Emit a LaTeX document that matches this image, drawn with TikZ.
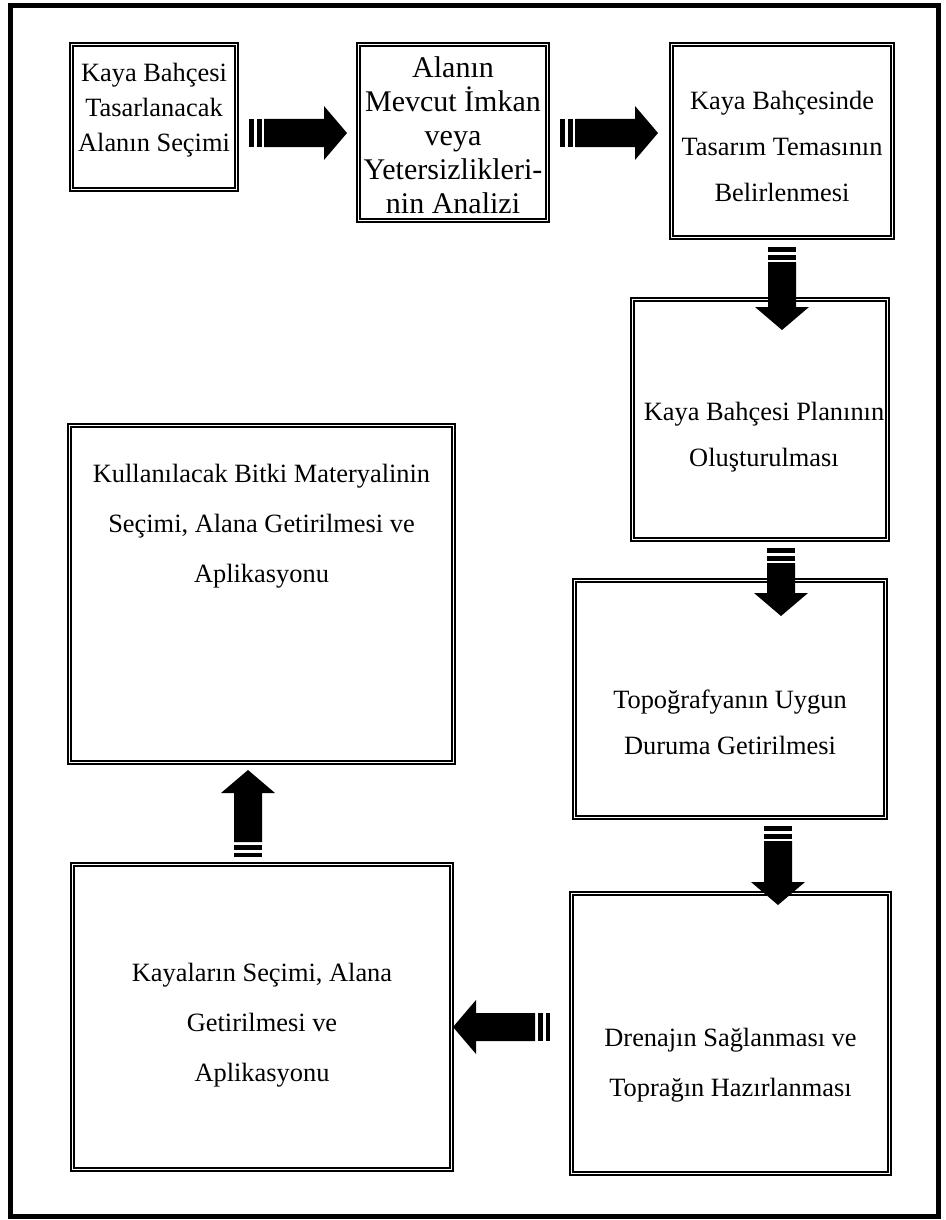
\documentclass[tikz,border=0pt]{standalone}
\usepackage{fontspec}
\setmainfont{Liberation Serif}
\tikzset{
  kutu/.style={draw, double, line width=0.8pt, double distance=0.9pt, inner sep=0pt},
  yazi/.style={align=center, inner sep=0pt},
  pics/okcizgili/.style={code={
    \fill (0,-14) rectangle (4.5,14);
    \fill (7.5,-14) rectangle (12.5,14);
    \fill (15,-14) -- ({#1-23},-14) -- ({#1-23},-27) -- (#1,0) -- ({#1-23},27) -- ({#1-23},14) -- (15,14) -- cycle;
  }}
}
\begin{document}
\begin{tikzpicture}[x=0.5pt,y=-0.5pt]
                \useasboundingbox (0,0) rectangle (946,1220);
                \draw[line width=2.5pt] (10,5.5) rectangle (938.5,1216.5);
                % kutular
                \node[kutu, minimum width=82.5pt,  minimum height=72.5pt]  (secim)   at (154,117)    {};
                \node[kutu, minimum width=94.5pt,  minimum height=88pt]    (analiz)  at (453,132.5)  {};
                \node[kutu, minimum width=110.5pt, minimum height=96.5pt]  (tema)    at (782,141)    {};
                \node[kutu, minimum width=127.5pt, minimum height=120pt]   (plan)    at (760,419.5)  {};
                \node[kutu, minimum width=155.5pt, minimum height=118.5pt] (topo)    at (730,699)    {};
                \node[kutu, minimum width=159pt,   minimum height=140pt]   (drenaj)  at (730.5,1033.5) {};
                \node[kutu, minimum width=189.5pt, minimum height=152.5pt] (kayalar) at (262,1017)   {};
                \node[kutu, minimum width=192pt,   minimum height=168.5pt] (bitki)   at (261.5,594)  {};
                % yazilar
                \node[yazi, font=\fontsize{13.2}{17.5}\selectfont] (secimyazi)   at (secim.center)   [yshift=3.5pt] {Kaya Bahçesi\\Tasarlanacak\\Alanın Seçimi};
                \node[yazi, font=\fontsize{15}{17}\selectfont]     (analizyazi)  at (analiz.center)  [yshift=-1.6pt] {Alanın\\Mevcut İmkan\\veya\\Yetersizlikleri-\\nin Analizi};
                \node[yazi, font=\fontsize{13.2}{23}\selectfont]   (temayazi)    at (tema.center)    [yshift=-2.5pt] {Kaya Bahçesinde\\Tasarım Temasının\\Belirlenmesi};
                \node[yazi, font=\fontsize{13.2}{23}\selectfont]   (planyazi)    at (plan.center)    [xshift=2pt, yshift=-9pt] {Kaya Bahçesi Planının\\Oluşturulması};
                \node[yazi, font=\fontsize{13.2}{23}\selectfont]   (topoyazi)    at (topo.center)    [yshift=-11.5pt] {Topoğrafyanın Uygun\\Duruma Getirilmesi};
                \node[yazi, font=\fontsize{13.2}{25}\selectfont]   (drenajyazi)  at (drenaj.center)  [yshift=-16pt] {Drenajın Sağlanması ve\\Toprağın Hazırlanması};
                \node[yazi, font=\fontsize{13.2}{25}\selectfont]   (kayalaryazi) at (kayalar.center) [yshift=-4pt] {Kayaların Seçimi, Alana\\Getirilmesi ve\\Aplikasyonu};
                \node[yazi, font=\fontsize{13.2}{25}\selectfont]   (bitkiyazi)   at (bitki.center)   [yshift=34pt] {Kullanılacak Bitki Materyalinin\\Seçimi, Alana Getirilmesi ve\\Aplikasyonu};
                % oklar
                \pic (ok1) at (249,133) {okcizgili=98};
                \pic (ok2) at (560,133) {okcizgili=98};
                \pic[rotate=-90] (ok3) at (782,247) {okcizgili=83};
                \pic[rotate=-90] (ok4) at (781,548) {okcizgili=68};
                \pic[rotate=-90] (ok5) at (778,826) {okcizgili=79};
                \pic[rotate=180] (ok6) at (550,1027) {okcizgili=97};
                \pic[rotate=90]  (ok7) at (248,857) {okcizgili=87};
            \end{tikzpicture}
\end{document}
